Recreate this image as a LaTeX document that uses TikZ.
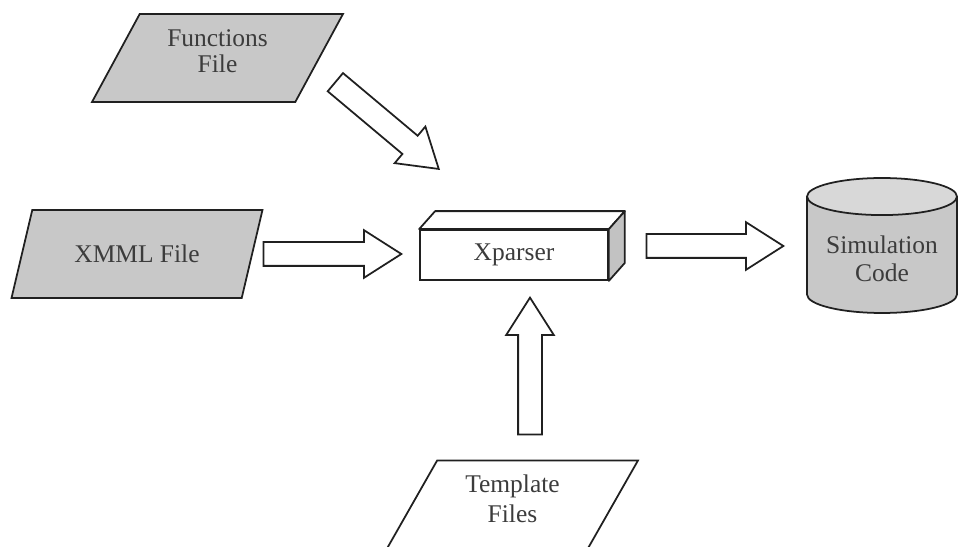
\documentclass[tikz,border=0pt]{standalone}
\usepackage{fontspec}
\setmainfont{Liberation Serif}
\usetikzlibrary{shapes.geometric,shapes.arrows}
\definecolor{fileG}{HTML}{C8C8C8}
\definecolor{capG}{HTML}{D8D8D8}
\definecolor{sideG}{HTML}{C2C2C2}
\definecolor{lineG}{HTML}{202020}
\definecolor{textG}{HTML}{3C3C3C}
\tikzset{
  datafile/.style={trapezium, trapezium left angle=55, trapezium right angle=125,
                   trapezium stretches body, draw=lineG, line width=1pt, fill=#1,
                   minimum height=1.76cm, minimum width=5.02cm, align=center,
                   text=textG, font=\fontsize{14.5}{17}\selectfont},
  engine/.style={rectangle, draw=lineG, line width=1pt, fill=white, minimum width=3.76cm,
                 minimum height=1cm, text=textG, font=\fontsize{14.5}{17}\selectfont},
  boxline/.style={draw=lineG, line width=1pt, line join=round},
  store/.style={cylinder, shape border rotate=90, draw=lineG, line width=1pt,
                cylinder uses custom fill, cylinder body fill=fileG, cylinder end fill=capG,
                minimum width=3cm, minimum height=2.7cm, aspect=0.3, align=center,
                text=textG, font=\fontsize{14.5}{15.5}\selectfont},
  hollow/.style={single arrow, draw=lineG, line width=1pt, fill=white, inner xsep=0pt,
                 inner ysep=0.22cm, single arrow head extend=0.24cm, anchor=tip,
                 single arrow tip angle=65, minimum height=#1},
}

\begin{document}
\begin{tikzpicture}[x=0.02cm, y=-0.02cm]
    \useasboundingbox (0,0) rectangle (958,547);
    \node[datafile=fileG, font=\fontsize{14.5}{14.5}\selectfont, text depth=8pt] (func) at (217.5,58) {Functions\\File};
    \node[datafile=fileG] (xmml) at (137,254) {XMML File};
    \node[datafile=white, text depth=7pt] (tmpl) at (512.5,504.5) {Template\\Files};
    \node[engine] (xp) at (514,255) {Xparser};
    \coordinate (xpback) at ([shift={(16,-18)}]xp.north east);
    \draw[boxline, fill=white] (xp.north west) -- ++(16,-18) -- (xpback) -- (xp.north east) -- cycle;
    \draw[boxline, fill=sideG] (xp.north east) -- (xpback)
      -- ([shift={(16,-18)}]xp.south east) -- (xp.south east) -- cycle;
    \node[store, anchor=shape center] (sim) at (882,245.5) {Simulation\\Code};
    \node[hollow=2.76cm] (xmml2xp) at (403,254) {};
    \node[hollow=2.74cm] (xp2sim) at (785,246) {};
    \node[hollow=2.74cm, rotate=90] (tmpl2xp) at (530,296) {};
    \node[hollow=2.70cm, rotate=-40] (func2xp) at (440,170) {};
\end{tikzpicture}
\end{document}
